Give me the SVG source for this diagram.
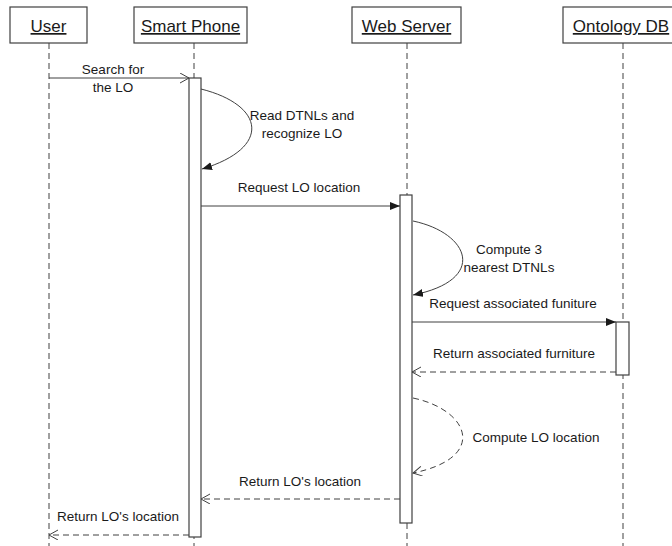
<svg xmlns="http://www.w3.org/2000/svg" width="672" height="546" viewBox="0 0 672 546">
<style>
.hdr{fill:#fff;stroke:#404040;stroke-width:1.2}
.htxt{font-family:"Liberation Sans",Arial,sans-serif;font-size:17px;fill:#1a1a1a;text-anchor:middle;text-decoration:underline}
.life{stroke:#404040;stroke-width:1;stroke-dasharray:6,4;fill:none}
.act{fill:#fff;stroke:#404040;stroke-width:1.2}
.msg{stroke:#404040;stroke-width:1;fill:none}
.ret{stroke:#404040;stroke-width:1;fill:none;stroke-dasharray:6,4}
.lbl{font-family:"Liberation Sans",Arial,sans-serif;font-size:13.5px;fill:#1a1a1a;text-anchor:middle}
</style>
<defs>
<marker id="filled" markerUnits="userSpaceOnUse" markerWidth="12" markerHeight="10" refX="10" refY="4" orient="auto">
<path d="M0,0 L10,4 L0,8 z" fill="#1a1a1a"/>
</marker>
<marker id="open" markerUnits="userSpaceOnUse" markerWidth="12" markerHeight="12" refX="10" refY="5" orient="auto">
<path d="M1,0 L10,5 L1,10" fill="none" stroke="#404040" stroke-width="1"/>
</marker>
</defs>
<rect width="672" height="546" fill="#fff"/>
<g id="user">
<line class="life" x1="49" y1="43" x2="49" y2="546"/>
<rect class="hdr" x="10" y="7" width="77" height="36"/>
<text class="htxt" x="48.5" y="32">User</text>
</g>
<g id="smartphone">
<line class="life" x1="194" y1="43" x2="194" y2="546"/>
<rect class="hdr" x="134" y="7" width="113" height="36"/>
<text class="htxt" x="190.5" y="32">Smart Phone</text>
<rect class="act" x="189" y="78" width="12" height="459"/>
</g>
<g id="webserver">
<line class="life" x1="407" y1="43" x2="407" y2="546"/>
<rect class="hdr" x="352" y="7" width="109" height="36"/>
<text class="htxt" x="406.5" y="32">Web Server</text>
<rect class="act" x="400" y="195" width="12" height="328"/>
</g>
<g id="ontologydb">
<line class="life" x1="623" y1="43" x2="623" y2="546"/>
<rect class="hdr" x="563" y="7" width="122" height="36"/>
<text class="htxt" x="621" y="32">Ontology DB</text>
<rect class="act" x="616" y="322" width="13" height="53"/>
</g>
<g id="connectors">
<line class="msg" x1="49" y1="78" x2="189" y2="78" marker-end="url(#open)"/>
<path class="msg" d="M201,89 C265,105 272,148 202,169" marker-end="url(#filled)"/>
<line class="msg" x1="201" y1="206" x2="400" y2="206" marker-end="url(#filled)"/>
<path class="msg" d="M413,221 C470,233 488,280 413,295" marker-end="url(#filled)"/>
<line class="msg" x1="412" y1="322" x2="616" y2="322" marker-end="url(#filled)"/>
<line class="ret" x1="616" y1="372" x2="412" y2="372" marker-end="url(#open)"/>
<path class="ret" d="M413,398 C470,410 488,458 413,473" marker-end="url(#open)"/>
<line class="ret" x1="400" y1="499" x2="201" y2="499" marker-end="url(#open)"/>
<line class="ret" x1="189" y1="535" x2="49" y2="535" marker-end="url(#open)"/>
</g>
<g id="labels">
<text class="lbl" x="113" y="74">Search for</text>
<text class="lbl" x="113" y="92">the LO</text>
<text class="lbl" x="302" y="120">Read DTNLs and</text>
<text class="lbl" x="302" y="138">recognize LO</text>
<text class="lbl" x="299" y="192">Request LO location</text>
<text class="lbl" x="509" y="254">Compute 3</text>
<text class="lbl" x="509" y="272">nearest DTNLs</text>
<text class="lbl" x="513" y="308">Request associated funiture</text>
<text class="lbl" x="514" y="358">Return associated furniture</text>
<text class="lbl" x="536" y="442">Compute LO location</text>
<text class="lbl" x="300" y="486">Return LO's location</text>
<text class="lbl" x="118" y="521">Return LO's location</text>
</g>
</svg>
